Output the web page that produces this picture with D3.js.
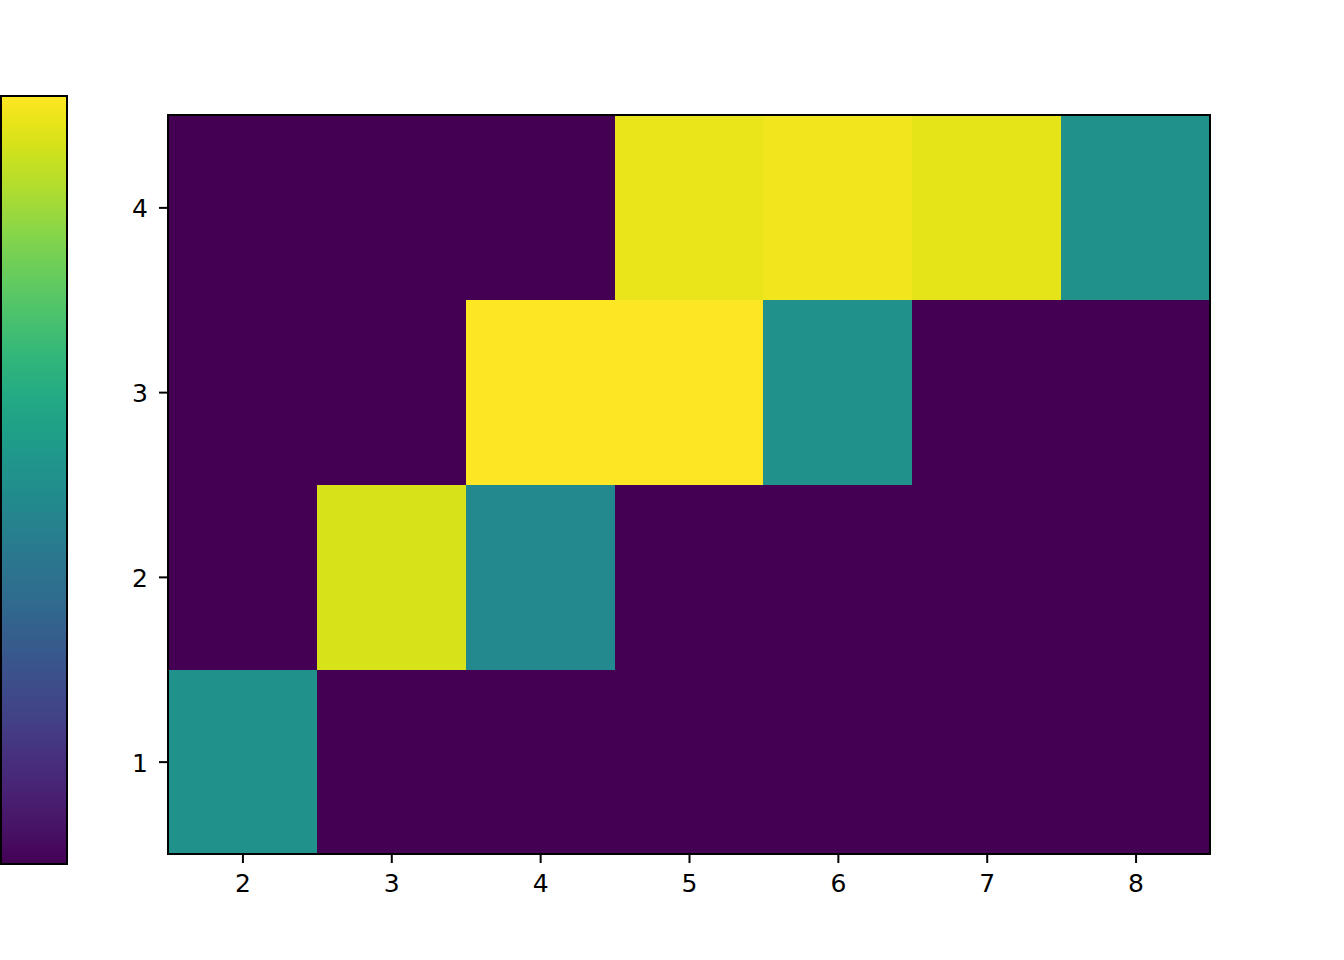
<!DOCTYPE html>
<html><head><meta charset="utf-8">
<script src="https://cdn.jsdelivr.net/npm/d3@7"></script>
<style>body{margin:0;background:#fff}svg{display:block}text{font-family:"DejaVu Sans",sans-serif}</style>
</head><body>
<svg id="c" width="1344" height="960"></svg>
<script>
const xCats = [2,3,4,5,6,7,8];
const yCats = [1,2,3,4];
// values row by row (y = 1..4), columns x = 2..8
const row1 = [0.5, 0, 0, 0, 0, 0, 0];
const row2 = [0, 0.94, 0.47, 0, 0, 0, 0];
const row3 = [0, 0, 1.0, 1.0, 0.5, 0, 0];
const row4 = [0, 0, 0, 0.965, 0.98, 0.96, 0.5];
const rows = [row1,row2,row3,row4];

const svg = d3.select("#c");
const L=168,R=1210,T=115,B=854;
const x = d3.scaleLinear().domain([1.5,8.5]).range([L,R]);
const y = d3.scaleLinear().domain([0.5,4.5]).range([B,T]);
const color = d3.scaleSequential(d3.interpolateViridis).domain([0,1]);

const cells=[];
rows.forEach((r,i)=>r.forEach((v,j)=>cells.push({x:xCats[j],y:yCats[i],v})));
svg.append("g").selectAll("rect").data(cells).join("rect")
  .attr("x",d=>x(d.x-0.5)).attr("y",d=>y(d.y+0.5))
  .attr("width",d=>x(d.x+0.5)-x(d.x-0.5)+0.5).attr("height",d=>y(d.y-0.5)-y(d.y+0.5)+0.5)
  .attr("fill",d=>color(d.v)).attr("shape-rendering","crispEdges");

const xa = svg.append("g").attr("transform",`translate(0,${B})`)
  .call(d3.axisBottom(x).tickValues(xCats).tickSize(9).tickPadding(11).tickFormat(d3.format("d")));
const ya = svg.append("g").attr("transform",`translate(${L},0)`)
  .call(d3.axisLeft(y).tickValues(yCats).tickSize(9).tickPadding(11).tickFormat(d3.format("d")));
[xa,ya].forEach(a=>{
  a.select(".domain").remove();
  a.selectAll(".tick line").attr("stroke","#000").attr("stroke-width",2);
  a.selectAll(".tick text").attr("font-size",25).attr("fill","#000").attr("font-family","DejaVu Sans");
});
ya.selectAll(".tick text").attr("dy","0.38em");
svg.append("rect").attr("x",L).attr("y",T).attr("width",R-L).attr("height",B-T)
  .attr("fill","none").attr("stroke","#000").attr("stroke-width",2);

// colorbar
const defs = svg.append("defs");
const g = defs.append("linearGradient").attr("id","vg").attr("x1",0).attr("y1",1).attr("x2",0).attr("y2",0);
d3.range(0,1.0001,0.02).forEach(t=>g.append("stop").attr("offset",t).attr("stop-color",color(t)));
svg.append("rect").attr("x",1).attr("y",96).attr("width",66).attr("height",768)
  .attr("fill","url(#vg)").attr("stroke","#000").attr("stroke-width",2);
</script>
</body></html>
